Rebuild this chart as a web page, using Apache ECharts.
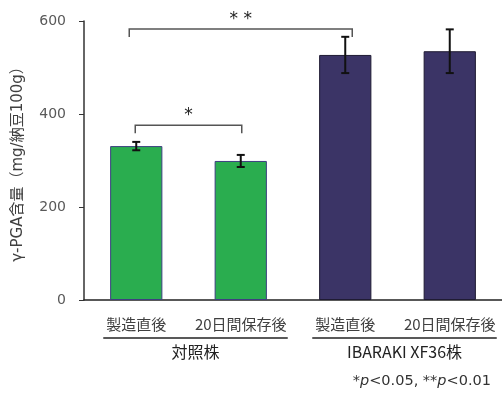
<!DOCTYPE html>
<html>
<head>
<meta charset="utf-8">
<script src="https://cdn.jsdelivr.net/npm/echarts@6/dist/echarts.min.js"></script>
<style>
  html, body { margin: 0; padding: 0; background: #fff; }
  #chart { width: 502px; height: 394px; }
</style>
</head>
<body>
<div id="chart"></div>
<script>
// values
const categories = ['製造直後', '20日間保存後', '製造直後', '20日間保存後'];
const means = [331, 299, 527, 535];
const errors = [9, 13, 39, 47];
const groupNames = ['対照株', 'IBARAKI XF36株'];
const groupSpans = [[0, 1], [2, 3]];
const sigPairs = [[0, 1], [0, 2]];
const sigLabels = ['*', '* *'];
const sigHeights = [376, 583];
const yTicks = [0, 200, 400, 600];

const barColors = ['#2aad4f', '#2aad4f', '#3b3466', '#3b3466'];
const barBorders = ['#3d3f80', '#3d3f80', '#1f1b33', '#1f1b33'];
const latin = "'DejaVu Sans', 'Noto Sans CJK JP'";
const cjk = "'Noto Sans CJK JP'";

const chart = echarts.init(document.getElementById('chart'));
chart.setOption({
    animation: false,
    grid: { left: 84, top: 21, bottom: 94, width: 420 },
    xAxis: {
        type: 'category',
        data: categories,
        axisTick: { show: false },
        axisLine: { lineStyle: { color: '#222', width: 1.5 } },
        axisLabel: { fontSize: 15, color: '#404040', margin: 17, fontFamily: cjk, interval: 0 }
    },
    yAxis: {
        type: 'value',
        min: yTicks[0],
        max: yTicks[yTicks.length - 1],
        interval: 200,
        name: 'γ-PGA含量（mg/納豆100g）',
        nameLocation: 'middle',
        nameRotate: 90,
        nameGap: 58,
        nameTextStyle: { fontSize: 15, color: '#404040', fontFamily: latin },
        splitLine: { show: false },
        axisLine: { show: true, lineStyle: { color: '#333', width: 1.5 } },
        axisTick: { show: true, length: 5, lineStyle: { color: '#333' } },
        axisLabel: { fontSize: 14, color: '#595959', margin: 18, fontFamily: latin }
    },
    series: [
        {
            type: 'bar',
            barWidth: '50%',
            data: means.map((v, i) => ({
                value: v,
                itemStyle: { color: barColors[i], borderColor: barBorders[i], borderWidth: 1 }
            })),
            z: 2
        },
        {
            // error bars
            type: 'custom',
            z: 5,
            data: means.map((v, i) => [i, v]),
            renderItem: (params, api) => {
                const i = params.dataIndex;
                const hi = api.coord([i, means[i] + errors[i]]);
                const lo = api.coord([i, means[i] - errors[i]]);
                const w = 4;
                const st = { stroke: '#111', lineWidth: 2 };
                return {
                    type: 'group',
                    children: [
                        { type: 'line', shape: { x1: hi[0], y1: hi[1], x2: lo[0], y2: lo[1] }, style: st },
                        { type: 'line', shape: { x1: hi[0] - w, y1: hi[1], x2: hi[0] + w, y2: hi[1] }, style: st },
                        { type: 'line', shape: { x1: lo[0] - w, y1: lo[1], x2: lo[0] + w, y2: lo[1] }, style: st }
                    ]
                };
            }
        },
        {
            // significance brackets
            type: 'custom',
            z: 6,
            data: sigPairs.map((p, k) => [p[0], sigHeights[k]]),
            renderItem: (params, api) => {
                const k = params.dataIndex;
                const pad = k === 0 ? 1 : 7;
                const a = api.coord([sigPairs[k][0], sigHeights[k]]);
                const b = api.coord([sigPairs[k][1], sigHeights[k]]);
                const x1 = a[0] - pad, x2 = b[0] + pad, y = a[1];
                const st = { stroke: '#555', lineWidth: 1.5, fill: null };
                return {
                    type: 'group',
                    children: [
                        { type: 'polyline', shape: { points: [[x1, y + 8], [x1, y], [x2, y], [x2, y + 8]] }, style: st },
                        { type: 'text', style: { text: sigLabels[k], x: (x1 + x2) / 2, y: y - 1, align: 'center', verticalAlign: 'bottom', fontSize: 17, fill: '#222', fontFamily: latin } }
                    ]
                };
            }
        },
        {
            // group underlines and names
            type: 'custom',
            z: 6,
            data: groupSpans.map(s => [s[0], 0]),
            renderItem: (params, api) => {
                const g = params.dataIndex;
                const a = api.coord([groupSpans[g][0], 0]);
                const b = api.coord([groupSpans[g][1], 0]);
                const x1 = a[0] - 33, x2 = b[0] + 47, y = a[1] + 38;
                return {
                    type: 'group',
                    children: [
                        { type: 'line', shape: { x1: x1, y1: y, x2: x2, y2: y }, style: { stroke: '#222', lineWidth: 1.5 } },
                        { type: 'text', style: { text: groupNames[g], x: (x1 + x2) / 2, y: y + 14, align: 'center', verticalAlign: 'middle', fontSize: 16, fill: '#222', fontFamily: cjk } }
                    ]
                };
            }
        }
    ],
    graphic: [{
        type: 'text',
        right: 11,
        top: 374,
        style: {
            text: '*{i|p}<0.05, **{i|p}<0.01',
            fontSize: 14.5,
            fill: '#333',
            fontFamily: latin,
            rich: { i: { fontStyle: 'italic', fontSize: 14.5, fontFamily: latin, fill: '#333' } }
        }
    }]
});
</script>
</body>
</html>
